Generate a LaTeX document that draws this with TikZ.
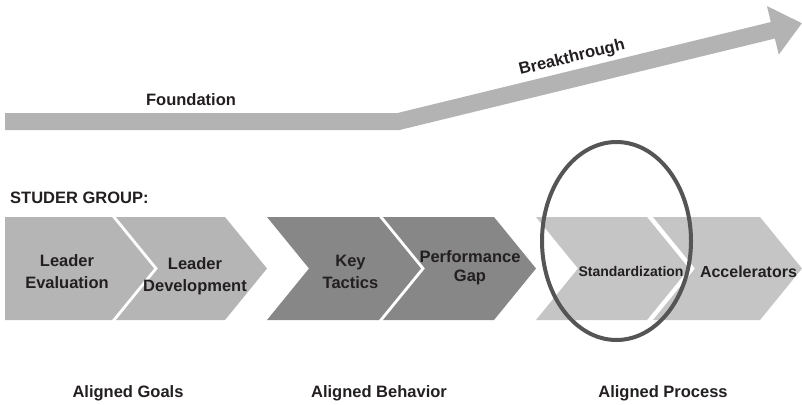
\documentclass[tikz,border=0pt]{standalone}
\usepackage{fontspec}
\setmainfont{Liberation Sans}
\usetikzlibrary{arrows.meta,shapes.geometric}

\definecolor{arrowgray}{HTML}{B3B3B3}
\definecolor{goalgray}{HTML}{B5B5B5}
\definecolor{behavgray}{HTML}{878787}
\definecolor{procgray}{HTML}{C5C5C5}
\definecolor{ringgray}{HTML}{555555}
\definecolor{inkgray}{HTML}{231F20}

% one chevron: left x, right x, notch depth, colour
\newcommand\chevron[4]{%
  \fill[#4] (#1,217) -- (#2,217) -- ++(42,51.5) -- (#2,320) -- (#1,320) -- ++(#3,-51.5) -- cycle;}

\begin{document}
\begin{tikzpicture}[
    x = 1pt, y = -1pt, % pixel grid, y runs down
    lbl/.style = {font=\fontsize{16.5}{22}\selectfont\bfseries, text=inkgray,
                  align=center, inner sep=0pt},
    small/.style = {font=\fontsize{14}{18}\selectfont\bfseries}
    ]
    \useasboundingbox (0,0) rectangle (802,404);

    % foundation / breakthrough arrow
    \coordinate (start) at (5,121.5);
    \coordinate (bend) at (398.5,121.5);
    \coordinate (tip) at (802,23.2);
    \draw[arrowgray, line width=17pt, -{Triangle[width=48pt,length=30pt]}]
        (start) -- (bend) -- (tip);
    \node[lbl, anchor=base] (found) at (191,105) {Foundation};
    \node[lbl, rotate=13.7] (brk) at (572,58) {Breakthrough};

    \node[lbl, anchor=base west] (studer) at (10,203) {STUDER GROUP:};

    % the six steps
    \chevron{5}{112}{0}{goalgray}
    \chevron{116}{225}{42}{goalgray}
    \chevron{267}{379}{42}{behavgray}
    \chevron{383}{494}{42}{behavgray}
    \chevron{536}{647}{42}{procgray}
    \chevron{653}{760}{42}{procgray}

    % base = last line
    \node[lbl, anchor=base] (eval) at (67,288) {Leader\\Evaluation};
    \node[lbl, anchor=base] (devel) at (195,291) {Leader\\Development};
    \node[lbl, anchor=base] (tactics) at (350.5,288) {Key\\Tactics};
    \node[lbl, anchor=base] (gap) at (470,281) {Performance\\[-3pt]Gap};
    \node[lbl, small, anchor=base] (std) at (631,276) {Standardization};
    \node[lbl, font=\fontsize{16}{20}\selectfont\bfseries, anchor=base] (accel) at (748.5,277) {Accelerators};

    % stage names
    \node[lbl, anchor=base] (goals) at (128,397) {Aligned Goals};
    \node[lbl, anchor=base] (behav) at (379,397) {Aligned Behavior};
    \node[lbl, anchor=base] (proc) at (663,397) {Aligned Process};

    % ring round standardization
    \node[ellipse, draw=ringgray, line width=4pt, inner sep=0pt,
          minimum width=149pt, minimum height=198pt] (focus) at (616.5,241) {};
\end{tikzpicture}
\end{document}
